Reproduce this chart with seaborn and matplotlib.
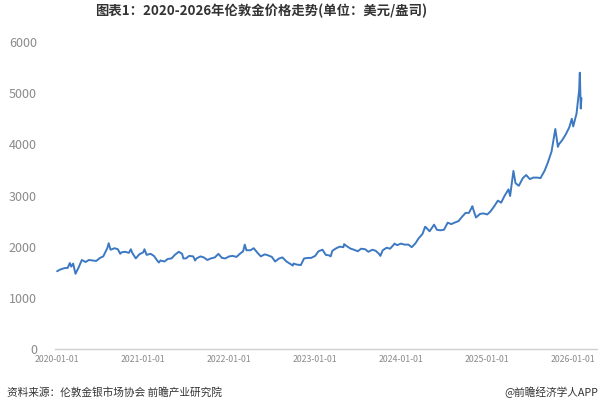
import matplotlib
matplotlib.use("Agg")
import matplotlib.pyplot as plt
import matplotlib.dates as mdates
import pandas as pd
import seaborn as sns

# ---- data ----
dates = [
    "2020-01-01", "2020-01-15", "2020-02-01", "2020-02-15", "2020-02-24", "2020-03-01", "2020-03-09", "2020-03-19",
    "2020-04-01", "2020-04-15", "2020-05-01", "2020-05-15", "2020-06-01", "2020-06-15", "2020-07-01", "2020-07-15",
    "2020-08-01", "2020-08-07", "2020-08-15", "2020-09-01", "2020-09-15", "2020-09-25", "2020-10-01", "2020-10-15",
    "2020-11-01", "2020-11-09", "2020-11-15", "2020-11-30", "2020-12-15",
    "2021-01-01", "2021-01-06", "2021-01-15", "2021-02-01", "2021-02-15", "2021-03-01", "2021-03-08", "2021-03-15",
    "2021-04-01", "2021-04-15", "2021-05-01", "2021-05-15", "2021-06-01", "2021-06-15", "2021-06-20", "2021-07-01",
    "2021-07-15", "2021-08-01", "2021-08-09", "2021-08-15", "2021-09-01", "2021-09-15", "2021-09-30", "2021-10-15",
    "2021-11-01", "2021-11-16", "2021-12-01", "2021-12-15",
    "2022-01-01", "2022-01-15", "2022-02-01", "2022-02-15", "2022-03-01", "2022-03-08", "2022-03-15", "2022-04-01",
    "2022-04-15", "2022-05-01", "2022-05-15", "2022-06-01", "2022-06-15", "2022-07-01", "2022-07-15", "2022-08-01",
    "2022-08-15", "2022-09-01", "2022-09-15", "2022-09-28", "2022-10-01", "2022-10-15", "2022-11-01", "2022-11-15",
    "2022-12-01", "2022-12-15",
    "2023-01-01", "2023-01-15", "2023-02-01", "2023-02-15", "2023-03-01", "2023-03-08", "2023-03-15", "2023-04-01",
    "2023-04-15", "2023-05-01", "2023-05-04", "2023-05-15", "2023-06-01", "2023-06-15", "2023-07-01", "2023-07-15",
    "2023-08-01", "2023-08-15", "2023-09-01", "2023-09-15", "2023-10-01", "2023-10-05", "2023-10-15", "2023-11-01",
    "2023-11-15", "2023-12-01", "2023-12-04", "2023-12-15",
    "2024-01-01", "2024-01-15", "2024-02-01", "2024-02-15", "2024-03-01", "2024-03-15", "2024-04-01", "2024-04-12",
    "2024-04-15", "2024-05-01", "2024-05-20", "2024-06-01", "2024-06-15", "2024-07-01", "2024-07-17", "2024-08-01",
    "2024-08-15", "2024-09-01", "2024-09-15", "2024-10-01", "2024-10-15", "2024-10-30", "2024-11-01", "2024-11-14",
    "2024-12-01", "2024-12-15",
    "2025-01-01", "2025-01-15", "2025-02-01", "2025-02-15", "2025-03-01", "2025-03-15", "2025-04-01", "2025-04-08",
    "2025-04-22", "2025-05-01", "2025-05-15", "2025-06-01", "2025-06-15", "2025-07-01", "2025-07-15", "2025-08-01",
    "2025-08-15", "2025-09-01", "2025-09-15", "2025-10-01", "2025-10-17", "2025-10-28", "2025-11-01", "2025-11-15",
    "2025-12-01", "2025-12-15", "2025-12-26",
    "2026-01-01", "2026-01-15", "2026-01-26", "2026-01-29", "2026-02-02", "2026-02-05",
]
prices = [
    1520, 1555, 1580, 1585, 1680, 1610, 1670, 1470,
    1590, 1740, 1700, 1740, 1730, 1720, 1780, 1810,
    1970, 2067, 1940, 1970, 1950, 1860, 1890, 1900,
    1880, 1950, 1880, 1770, 1850,
    1890, 1950, 1840, 1860, 1820, 1730, 1690, 1730,
    1710, 1760, 1770, 1840, 1900, 1860, 1770, 1770,
    1820, 1810, 1730, 1770, 1810, 1790, 1740, 1770,
    1790, 1860, 1780, 1770,
    1810, 1820, 1800, 1860, 1910, 2040, 1930, 1930,
    1970, 1880, 1810, 1850, 1830, 1800, 1710, 1770,
    1790, 1710, 1670, 1630, 1670, 1650, 1640, 1770,
    1780, 1780,
    1820, 1910, 1940, 1840, 1830, 1810, 1920, 1970,
    2000, 1990, 2050, 2010, 1960, 1940, 1910, 1960,
    1950, 1900, 1940, 1920, 1850, 1820, 1930, 1980,
    1960, 2040, 2060, 2030,
    2060, 2040, 2040, 1990, 2060, 2160, 2250, 2390,
    2380, 2300, 2430, 2330, 2320, 2330, 2470, 2440,
    2470, 2500, 2580, 2660, 2660, 2790, 2750, 2570,
    2640, 2650,
    2630, 2690, 2800, 2900, 2860, 2990, 3120, 2990,
    3480, 3240, 3190, 3340, 3400, 3320, 3350, 3350,
    3340, 3480, 3640, 3860, 4300, 3950, 4000, 4080,
    4200, 4330, 4500,
    4350, 4600, 5050, 5400, 4700, 4900,
]
y_ticks = [0, 1000, 2000, 3000, 4000, 5000, 6000]
x_tick_labels = ["2020-01-01", "2021-01-01", "2022-01-01", "2023-01-01",
                 "2024-01-01", "2025-01-01", "2026-01-01"]

title = "图表1：2020-2026年伦敦金价格走势(单位：美元/盎司)"
source = "资料来源：伦敦金银市场协会 前瞻产业研究院"
credit = "@前瞻经济学人APP"

df = pd.DataFrame({"date": pd.to_datetime(dates), "price": prices})

sns.set_theme(style="white")
plt.rcParams["font.family"] = ["Noto Sans CJK SC", "DejaVu Sans"]

fig = plt.figure(figsize=(6, 4), dpi=100)
ax = fig.add_axes([55 / 600, 1 - 349 / 400, 542 / 600, 307 / 400])

sns.lineplot(data=df, x="date", y="price", ax=ax, color="#3d79c2", linewidth=1.4)

ax.set_ylim(0, 6000)
ax.set_yticks(y_ticks)
ax.set_yticklabels([str(v) for v in y_ticks], fontsize=9, color="#8a8a8a")
ax.set_xlim(pd.Timestamp("2019-12-23"), pd.Timestamp("2026-04-12"))
xt = pd.to_datetime(x_tick_labels)
ax.set_xticks(xt)
ax.set_xticklabels(x_tick_labels, fontsize=6.3, color="#8a8a8a")
ax.tick_params(axis="y", length=0, pad=13)
ax.tick_params(axis="x", length=0, pad=4)
ax.set_xlabel("")
ax.set_ylabel("")
for s in ["top", "right", "left"]:
    ax.spines[s].set_visible(False)
ax.spines["bottom"].set_color("#d0d0d0")
ax.spines["bottom"].set_linewidth(1.0)
ax.grid(False)

fig.text(0.435, 0.972, title, ha="center", va="center", fontsize=9.6,
         fontweight="bold", color="#333333")
fig.text(7 / 600, 1 - 392 / 400, source, ha="left", va="center", fontsize=7.7, color="#333333")
fig.text(598 / 600, 1 - 392 / 400, credit, ha="right", va="center", fontsize=7.7, color="#333333")

fig.savefig("out.png", dpi=100)
